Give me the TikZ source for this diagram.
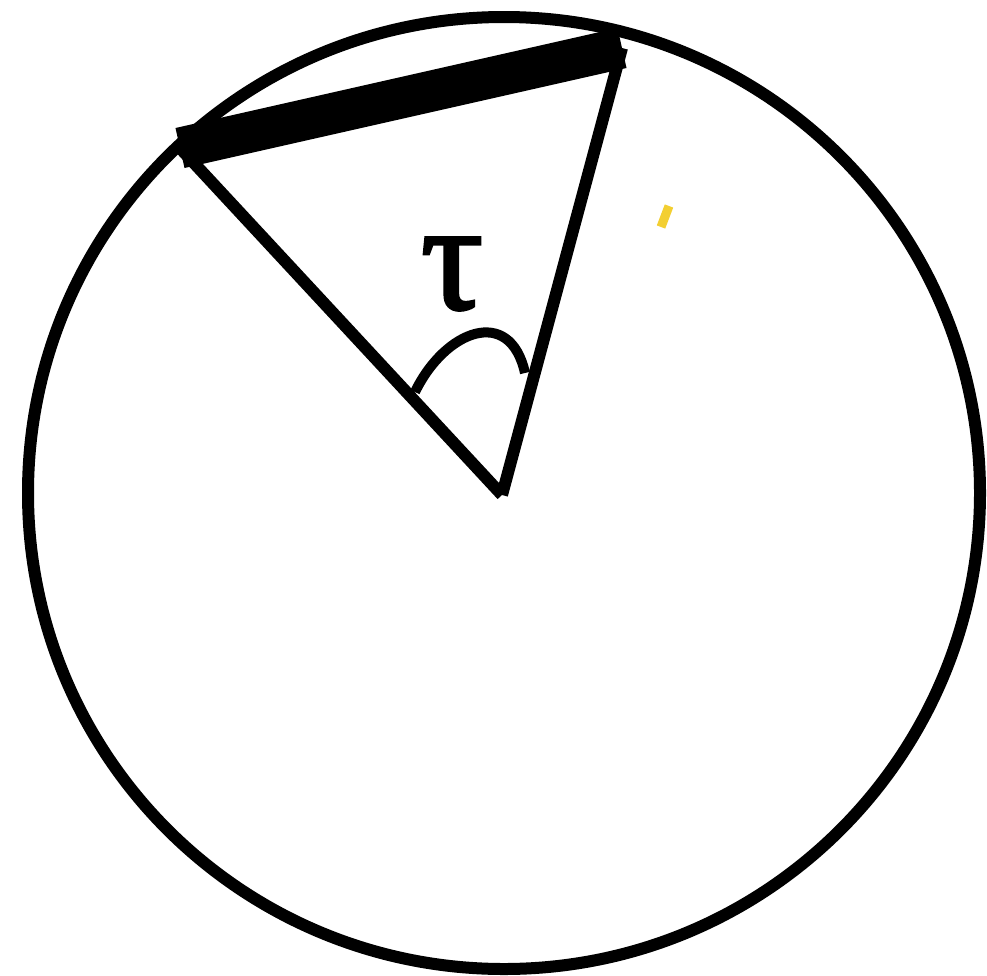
\documentclass[tikz,border=0pt]{standalone}
\usepackage{fontspec}
\newfontfamily\greekfont[FakeBold=2]{Liberation Serif}
\usetikzlibrary{positioning}

\begin{document}
\begin{tikzpicture}[
    x=1pt, y=-1pt,
    rim/.style={draw, line width=12pt},
    radius line/.style={draw, line width=12pt, line cap=butt},
    chord/.style={draw, line width=41pt, line cap=butt},
    angle mark/.style={draw, line width=10pt},
    tick/.style={draw=tickyellow, line width=9pt},
    label/.style={font=\greekfont\fontsize{155}{155}\selectfont, inner sep=0pt}
]
    \definecolor{tickyellow}{HTML}{F3CF32}
    \useasboundingbox (0,0) rectangle (987,975);

    \coordinate (centre) at (504,493);
    \coordinate (apex) at (502,495);
    \coordinate (left end) at (180,148);
    \coordinate (right end) at (622,48);
    \coordinate (arc start) at (415,392);
    \coordinate (arc end) at (525,373);
    \coordinate (tick low) at (661,227);
    \coordinate (tick high) at (669,206);

    \draw[rim] (centre) circle[radius=476];
    \draw[radius line] (apex) -- (left end);
    \draw[radius line] (apex) -- (right end);
    \draw[chord] (left end) -- (right end);
    \draw[angle mark] (arc start) .. controls (445,330) and (510,305) .. (arc end);
    \node[label] (tau) at (452,274) {τ};
    \draw[tick] (tick low) -- (tick high);
\end{tikzpicture}
\end{document}
